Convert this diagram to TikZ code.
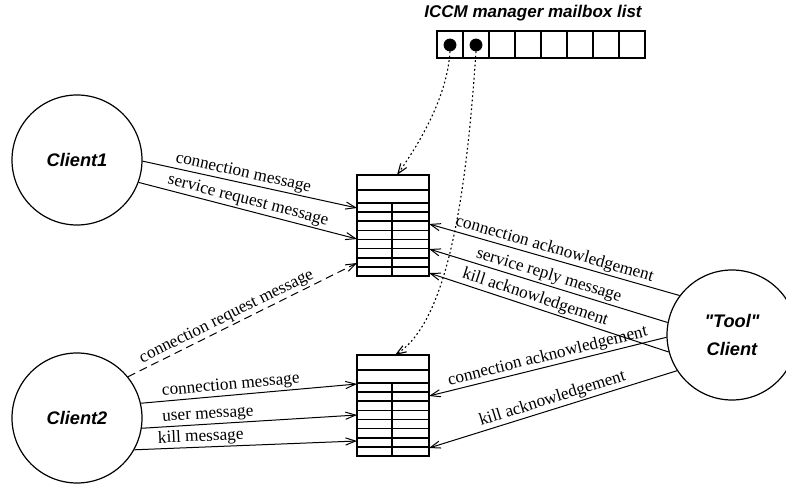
\documentclass[tikz,border=0pt]{standalone}
\usepackage{fontspec}
\setmainfont{Liberation Serif}
\setsansfont{Liberation Sans}[Ligatures=TeXOff]
\usetikzlibrary{arrows.meta}
\tikzset{
  client/.style={draw,circle,line width=0.6pt,minimum size=65pt,inner sep=0pt,
    font=\fontsize{9.1}{11}\selectfont\sffamily\bfseries\itshape,align=center},
  queue/.style={draw,thick,rectangle,minimum width=36pt,minimum height=50.5pt,inner sep=0pt},
  msg/.style={line width=0.5pt,-{Straight Barb[length=5pt,width=3.6pt]}},
  reqmsg/.style={msg,dash pattern=on 4pt off 2.5pt},
  link/.style={line width=0.55pt,dash pattern=on 0.9pt off 1.3pt,-{Straight Barb[length=5pt,width=3.6pt]}},
  lbl/.style={sloped,above,inner sep=0.8pt,font=\fontsize{8.6}{10}\selectfont},
  slot/.style={draw,fill,circle,minimum size=6pt,inner sep=0pt}
}
\begin{document}
\begin{tikzpicture}[x=0.5pt,y=-0.5pt]
\useasboundingbox (0,0) rectangle (786,485);
\node[font=\fontsize{8.5}{10}\selectfont\sffamily\bfseries\itshape] (title) at (533,13) {ICCM manager mailbox list};
\foreach \i in {0,...,7}
  \draw[thick] (437+26*\i,31) rectangle ++(26,27);
\node[slot] (d1) at (450,45) {};
\node[slot] (d2) at (476,45) {};
\node[client] (c1) at (77,160) {Client1};
\node[client] (c2) at (77,418) {Client2};
\node[client] (tc) at (732,335) {"Tool"\\[3pt]Client};
\foreach \q/\top in {qa/175,qb/355}{
  \node[queue] (\q) at (393,\top+50.5) {};
  \draw[thick] (357,\top+15) -- (429,\top+15) (357,\top+28) -- (429,\top+28);
  \foreach \k in {1,...,7}
    \draw[thick] (357,\top+28+9.125*\k) -- (429,\top+28+9.125*\k);
  \draw[thick] (392,\top+28) -- (392,\top+101);
}
\coordinate (qa-w1) at (357,208);
\coordinate (qa-w2) at (357,239);
\coordinate (qa-w3) at (357,263);
\coordinate (qa-e1) at (429,224);
\coordinate (qa-e2) at (429,249);
\coordinate (qa-e3) at (429,273);
\coordinate (qb-w1) at (357,384);
\coordinate (qb-w2) at (357,415);
\coordinate (qb-w3) at (357,441);
\coordinate (qb-e1) at (429,396);
\coordinate (qb-e2) at (429,448);
\coordinate (qa-top) at (397,175);
\coordinate (qb-top) at (395,355);
\draw[link] (d1.south) .. controls (447,100) and (416,148) .. (qa-top);
\draw[link] (d2.south) .. controls (466,200) and (447,322) .. (qb-top);
\draw[msg] (c1.-1) -- node[lbl,pos=0.46] {connection message} (qa-w1);
\draw[msg] (c1.-20) -- node[lbl,pos=0.49] {service request message} (qa-w2);
\draw[reqmsg] (c2.39) -- node[lbl,pos=0.45] {connection request message} (qa-w3);
\draw[msg] (c2.13) -- node[lbl,pos=0.42] {connection message} (qb-w1);
\draw[msg] (c2.-9) -- node[lbl,pos=0.31] {user message} (qb-w2);
\draw[msg] (c2.-29) -- node[lbl,pos=0.3] {kill message} (qb-w3);
\draw[msg] (tc.143) -- node[lbl,pos=0.51] {connection acknowledgement} (qa-e1);
\draw[msg] (tc.169) -- node[lbl,pos=0.51] {service reply message} (qa-e2);
\draw[msg] (tc.195) -- node[lbl,pos=0.57] {kill acknowledgement} (qa-e3);
\draw[msg] (tc.182) -- node[lbl,pos=0.49] {connection acknowledgement} (qb-e1);
\draw[msg] (tc.213) -- node[lbl,pos=0.49] {kill acknowledgement} (qb-e2);
\end{tikzpicture}
\end{document}
